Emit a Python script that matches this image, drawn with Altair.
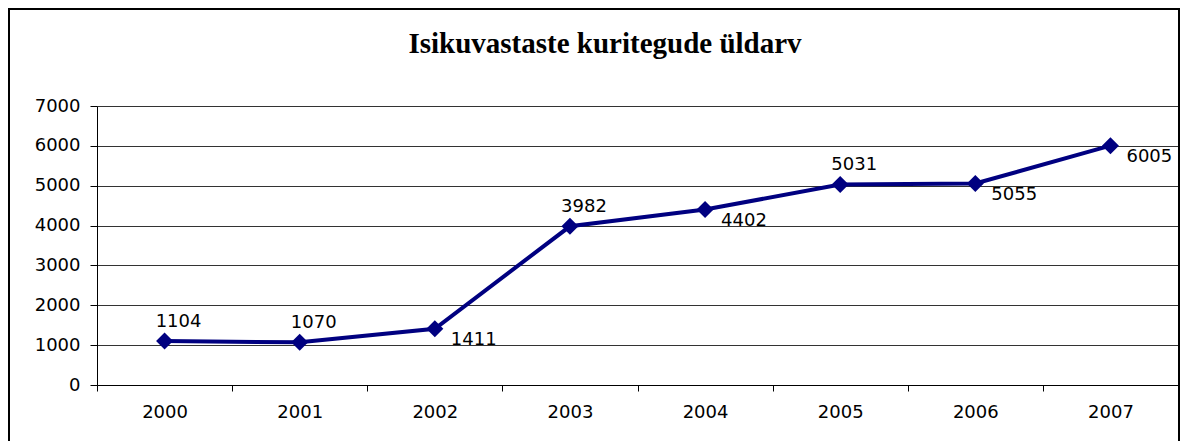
import altair as alt
import pandas as pd

years = ["2000", "2001", "2002", "2003", "2004", "2005", "2006", "2007"]
values = [1104, 1070, 1411, 3982, 4402, 5031, 5055, 6005]
label_side = ["above", "above", "below", "above", "below", "above", "below", "below"]
title_text = "Isikuvastaste kuritegude üldarv"

df = pd.DataFrame({"year": years, "value": values, "side": label_side})

W, H = 1081, 279
NAVY = "#000080"
FONT = "DejaVu Sans"

x = alt.X("year:N", sort=years, title=None,
          scale=alt.Scale(paddingInner=0, paddingOuter=0),
          axis=alt.Axis(labelAngle=0, tickBand="extent", tickSize=6, labelPadding=12,
                        labelFont=FONT, labelFontSize=18, labelColor="black",
                        domainColor="black", tickColor="black", grid=False))
y = alt.Y("value:Q", title=None,
          scale=alt.Scale(domain=[0, 7000], nice=False),
          axis=alt.Axis(values=list(range(0, 7001, 1000)), format="d", tickSize=7, labelPadding=10,
                        labelFont=FONT, labelFontSize=18, labelColor="black",
                        domainColor="black", tickColor="black",
                        grid=True, gridColor="#333333", gridWidth=1))

base = alt.Chart(df).encode(x=x, y=y)

line = base.mark_line(color=NAVY, strokeWidth=4)
pts = base.mark_point(shape="diamond", filled=True, color=NAVY, size=290, opacity=1)

above = base.transform_filter(alt.datum.side == "above").mark_text(
    font=FONT, fontSize=18, color="black", dx=14, dy=-19, align="center", baseline="middle"
).encode(text="value:Q")
below = base.transform_filter(alt.datum.side == "below").mark_text(
    font=FONT, fontSize=18, color="black", dx=16, dy=11, align="left", baseline="middle"
).encode(text="value:Q")

border = alt.Chart(pd.DataFrame({"k": [0]})).mark_rect(
    filled=False, stroke="black", strokeWidth=2
).encode(x=alt.value(-88), x2=alt.value(1082), y=alt.value(-97), y2=alt.value(345))

title = alt.Chart(pd.DataFrame({"t": [title_text]})).mark_text(
    font="Liberation Serif", fontSize=29, fontWeight="bold", color="black",
    align="center", baseline="alphabetic"
).encode(x=alt.value(508), y=alt.value(-53), text="t:N")

chart = alt.layer(border, title, line, pts, above, below).properties(
    width=W, height=H,
    autosize=alt.AutoSizeParams(type="none"),
    padding={"left": 89, "top": 98, "right": 10, "bottom": 60},
).configure_view(stroke=None).configure(background="white")

chart.save("out.html", embed_options={"renderer": "svg", "actions": False})
